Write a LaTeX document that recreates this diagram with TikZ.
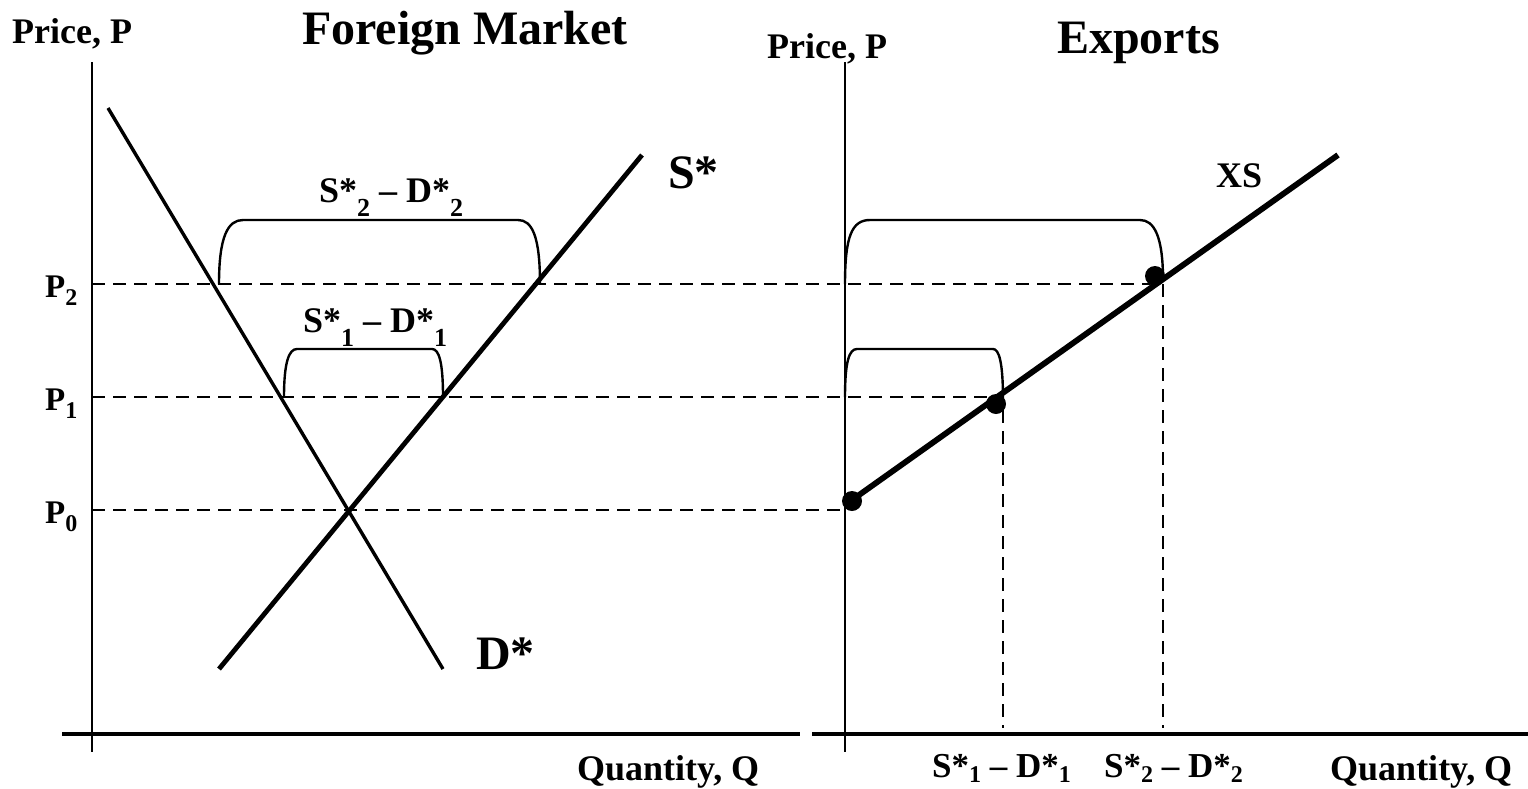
\documentclass[tikz,border=0pt]{standalone}
\usepackage{fontspec}
\setmainfont{Liberation Serif}
\newcommand\fs[1]{\fontsize{#1}{#1}\selectfont}
\newcommand\psub[1]{\raisebox{-8pt}{\fs{24}#1}}
\newcommand\bsub[1]{\raisebox{-5pt}{\fs{24}#1}}
\newcommand\qsub[1]{\raisebox{-14pt}{\fs{26}#1}}
\begin{document}
\begin{tikzpicture}[x=1pt,y=-1pt,
  lbl/.style={font=\bfseries\fs{36}, anchor=base west, inner sep=0pt},
  big/.style={font=\bfseries\fs{48}, anchor=base west, inner sep=0pt},
  plbl/.style={font=\bfseries\fs{33}, anchor=base west, inner sep=0pt},
  axis/.style={line width=2.2pt},
  haxis/.style={line width=3.5pt},
  guide/.style={line width=2.8pt, dash pattern=on 13pt off 8pt},
  brace/.style={line width=2.4pt},
  dot/.style={circle, fill=black, inner sep=0pt, minimum size=20pt}]
\useasboundingbox (0,0) rectangle (1528,788);
% coordinates
\coordinate (LAtop) at (92,62);   \coordinate (LAbot) at (92,752);
\coordinate (LHl) at (62,734);    \coordinate (LHr) at (800,734);
\coordinate (RAtop) at (845,62);  \coordinate (RAbot) at (845,752);
\coordinate (RHl) at (812,734);   \coordinate (RHr) at (1528,734);
\coordinate (Dtop) at (108,108);  \coordinate (Dbot) at (443,669);
\coordinate (Sbot) at (219,669);  \coordinate (Stop) at (642,155);
\coordinate (XSa) at (852,500);   \coordinate (XSb) at (1338,155);
\coordinate (L0) at (92,510); \coordinate (E0) at (845,510);
\coordinate (L1) at (92,397); \coordinate (E1) at (990,397);
\coordinate (L2) at (92,284); \coordinate (E2) at (1150,284);
\coordinate (V1t) at (1003,410); \coordinate (V1b) at (1003,728);
\coordinate (V2t) at (1163,284); \coordinate (V2b) at (1163,728);
% axes
\draw[axis] (LAtop) -- (LAbot);
\draw[haxis] (LHl) -- (LHr);
\draw[axis] (RAtop) -- (RAbot);
\draw[haxis] (RHl) -- (RHr);
% guides
\draw[guide] (L0) -- (E0);
\draw[guide] (L1) -- (E1);
\draw[guide] (L2) -- (E2);
\draw[guide] (V1t) -- (V1b);
\draw[guide] (V2t) -- (V2b);
% curves
\draw[line width=3.4pt] (Dtop) -- (Dbot);
\draw[line width=4.8pt] (Sbot) -- (Stop);
\draw[line width=5.8pt] (XSa) -- (XSb);
% brackets left
\draw[brace] (219,284) .. controls (219,236) and (228,220) .. (243,220) -- (518,220)
  .. controls (532,220) and (540,236) .. (540,284);
\draw[brace] (284,397) .. controls (284,362) and (289,349) .. (297,349) -- (432,349)
  .. controls (439,349) and (443,362) .. (443,397);
% brackets right
\draw[brace] (845,284) .. controls (845,236) and (852,220) .. (870,220) -- (1140,220)
  .. controls (1154,220) and (1163,236) .. (1163,280);
\draw[brace] (845,397) .. controls (845,362) and (849,349) .. (857,349) -- (993,349)
  .. controls (999,349) and (1003,362) .. (1003,400);
% dots
\node[dot] (d0) at (852,501) {};
\node[dot] (d1) at (996,404) {};
\node[dot] (d2) at (1155,276) {};
% texts
\node[lbl] (pl) at (12,43) {Price, P};
\node[big] (tl) at (302,44) {Foreign Market};
\node[lbl] (pr) at (767,58) {Price, P};
\node[big] (tr) at (1057,53) {Exports};
\node[big] (sl) at (668,188) {S*};
\node[big] (dl) at (476,669) {D*};
\node[lbl] (xs) at (1216,187) {XS};
\node[lbl] (ql) at (577,780) {Quantity, Q};
\node[lbl] (qr) at (1330,780) {Quantity, Q};
\node[lbl] (b2) at (319,202) {S*\qsub{2} – D*\qsub{2}};
\node[lbl] (b1) at (303,332) {S*\qsub{1} – D*\qsub{1}};
\node[lbl,font=\bfseries\fs{35}] (x1) at (932,777) {S*\bsub{1} – D*\bsub{1}};
\node[lbl,font=\bfseries\fs{35}] (x2) at (1104,777) {S*\bsub{2} – D*\bsub{2}};
\node[plbl] (p2) at (45,297) {P\psub{2}};
\node[plbl] (p1) at (45,410) {P\psub{1}};
\node[plbl] (p0) at (45,523) {P\psub{0}};
\end{tikzpicture}
\end{document}
